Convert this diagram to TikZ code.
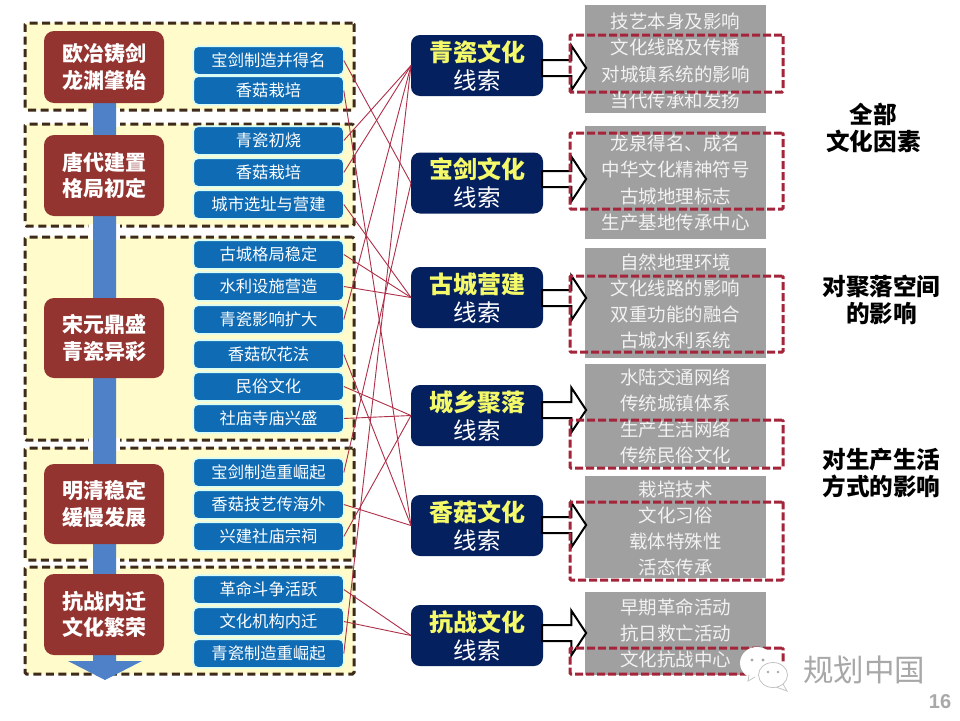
\documentclass[tikz,border=0pt]{standalone}
\usepackage{fontspec}
\setmainfont{Noto Sans CJK SC}
\setsansfont{Liberation Sans}
\usetikzlibrary{shapes.arrows}
\definecolor{frameFill}{HTML}{FFFBCB}
\definecolor{frameLine}{HTML}{3D2A18}
\definecolor{flowBlue}{HTML}{4F81C8}
\definecolor{eraRed}{HTML}{943431}
\definecolor{itemBlue}{HTML}{0E6BB4}
\definecolor{itemGlow}{HTML}{D8FCF6}
\definecolor{threadNavy}{HTML}{05205F}
\definecolor{titleYellow}{HTML}{F4F96A}
\definecolor{panelGray}{HTML}{A0A0A0}
\definecolor{panelText}{HTML}{F2F2F2}
\definecolor{dashRed}{HTML}{A4243A}
\definecolor{linkRed}{HTML}{AE2F48}
\definecolor{markGray}{HTML}{A8A8A8}
\definecolor{iconGray}{HTML}{C4C4C4}
\newcommand{\fpx}[2]{\fontsize{#1}{#2}\selectfont}
\tikzset{
  periodFrame/.style={draw=frameLine,fill=frameFill,line width=3pt,dash pattern=on 8pt off 4.6pt,rounded corners=1.5pt,inner sep=0pt,outer sep=0pt},
  eraBox/.style={fill=eraRed,text=white,rounded corners=10pt,minimum width=120pt,inner sep=0pt,outer sep=0pt,align=center,font=\fpx{21}{26.5}\bfseries},
  itemBox/.style={fill=itemBlue,draw=itemGlow,line width=1.6pt,text=white,rounded corners=5pt,minimum width=150.6pt,minimum height=28.6pt,inner sep=0pt,outer sep=0pt,font=\fpx{16.3}{18}},
  threadBox/.style={fill=threadNavy,rounded corners=9pt,minimum width=132pt,minimum height=61pt,inner sep=0pt,outer sep=0pt},
  threadTitle/.style={text=titleYellow,inner sep=0pt,font=\fpx{24}{26}\bfseries},
  threadSub/.style={text=white,inner sep=0pt,font=\fpx{23.5}{26}},
  grayPanel/.style={fill=panelGray,minimum width=181pt,inner sep=0pt,outer sep=0pt},
  grayText/.style={text=panelText,inner sep=0pt,align=center,font=\fpx{18.5}{26.2}},
  redFrame/.style={draw=dashRed,line width=3pt,dash pattern=on 8pt off 3pt,rounded corners=1pt,inner sep=0pt,outer sep=0pt,minimum width=213pt},
  blockArrow/.style={single arrow,draw=black,fill=white,line width=2pt,text height=14pt,text depth=0pt,text width=0pt,minimum height=44pt,minimum width=43pt,single arrow head extend=14.5pt,single arrow tip angle=113,inner sep=0pt,outer sep=0pt},
  sideNote/.style={text=black,inner sep=0pt,align=center,font=\fpx{23.6}{27}\bfseries},
  link/.style={draw=linkRed,line width=0.9pt}
}
\begin{document}
\begin{tikzpicture}[x=1pt,y=-1pt]
\useasboundingbox (0,0) rectangle (960,720);
\fill[white] (0,0) rectangle (960,720);
% period frames
\node[periodFrame,minimum width=329pt,minimum height=87pt] (f1) at (189.5,66.5) {};
\node[periodFrame,minimum width=329pt,minimum height=102pt] (f2) at (189.5,175) {};
\node[periodFrame,minimum width=329pt,minimum height=203pt] (f3) at (189.5,338.5) {};
\node[periodFrame,minimum width=329pt,minimum height=112pt] (f4) at (189.5,504) {};
\node[periodFrame,minimum width=329pt,minimum height=107pt] (f5) at (189.5,620.5) {};
% gaps in the dashes beside the flow arrow
\foreach \yy in {110,124,226,237,440,448,560,567}{\fill[white] (89,\yy-2.5) rectangle (120,\yy+2.5);}
% flow arrow
\fill[flowBlue] (93,100) -- (116,100) -- (116,661) -- (142,661) -- (105,680) -- (68,661) -- (93,661) -- cycle;
% eras
\node[eraBox,minimum height=72pt] (e1) at (104,67) {欧冶铸剑\\龙渊肇始};
\node[eraBox,minimum height=81pt] (e2) at (104,175.5) {唐代建置\\格局初定};
\node[eraBox,minimum height=80pt] (e3) at (104,338) {宋元鼎盛\\青瓷异彩};
\node[eraBox,minimum height=80pt] (e4) at (104,504) {明清稳定\\缓慢发展};
\node[eraBox,minimum height=81pt] (e5) at (104,614.5) {抗战内迁\\文化繁荣};
% items
\node[itemBox] (a1) at (268.5,60.5) {宝剑制造并得名};
\node[itemBox] (a2) at (268.5,90.5) {香菇栽培};
\node[itemBox] (a3) at (268.5,140.5) {青瓷初烧};
\node[itemBox] (a4) at (268.5,172.5) {香菇栽培};
\node[itemBox] (a5) at (268.5,204.5) {城市选址与营建};
\node[itemBox] (a6) at (268.5,254.5) {古城格局稳定};
\node[itemBox] (a7) at (268.5,286.5) {水利设施营造};
\node[itemBox] (a8) at (268.5,319.5) {青瓷影响扩大};
\node[itemBox] (a9) at (268.5,354.5) {香菇砍花法};
\node[itemBox] (a10) at (268.5,386.5) {民俗文化};
\node[itemBox] (a11) at (268.5,418.5) {社庙寺庙兴盛};
\node[itemBox] (a12) at (268.5,472.5) {宝剑制造重崛起};
\node[itemBox] (a13) at (268.5,504.5) {香菇技艺传海外};
\node[itemBox] (a14) at (268.5,536.5) {兴建社庙宗祠};
\node[itemBox] (a15) at (268.5,589.5) {革命斗争活跃};
\node[itemBox] (a16) at (268.5,621.5) {文化机构内迁};
\node[itemBox] (a17) at (268.5,653.5) {青瓷制造重崛起};
% threads
\node[threadBox] (t1) at (477,65.5) {};
\node[threadBox] (t2) at (477,183) {};
\node[threadBox] (t3) at (477,297.5) {};
\node[threadBox] (t4) at (477,415.5) {};
\node[threadBox] (t5) at (477,525.5) {};
\node[threadBox] (t6) at (477,635.5) {};
\foreach \nm/\yy/\tt in {t1/52/青瓷文化,t2/169/宝剑文化,t3/284/古城营建,t4/402/城乡聚落,t5/512/香菇文化,t6/622/抗战文化}{
  \node[threadTitle] (\nm h) at (477,\yy) {\tt};
  \node[threadSub] (\nm s) at (477,\yy+28.5) {线索};
}
% links
\foreach \aa/\tt in {a3/t1,a4/t1,a8/t1,a17/t1,a1/t2,a12/t2,a5/t3,a6/t3,a7/t3,a10/t4,a11/t4,a14/t4,a2/t5,a9/t5,a13/t5,a15/t6,a16/t6}{
  \draw[link] (\aa.east) -- (\tt.west);
}
% grey panels
\node[grayPanel,minimum height=108pt] (g1) at (675.5,59) {};
\node[grayPanel,minimum height=113pt] (g2) at (675.5,182.5) {};
\node[grayPanel,minimum height=110pt] (g3) at (675.5,303) {};
\node[grayPanel,minimum height=103pt] (g4) at (675.5,415.5) {};
\node[grayPanel,minimum height=102pt] (g5) at (675.5,527) {};
\node[grayPanel,minimum height=83pt] (g6) at (675.5,633.5) {};
\node[grayText] (x1) at (675.5,61) {技艺本身及影响\\文化线路及传播\\对城镇系统的影响\\当代传承和发扬};
\node[grayText] (x2) at (675.5,183) {龙泉得名、成名\\中华文化精神符号\\古城地理标志\\生产基地传承中心};
\node[grayText] (x3) at (675.5,301.5) {自然地理环境\\文化线路的影响\\双重功能的融合\\古城水利系统};
\node[grayText] (x4) at (675.5,416.5) {水陆交通网络\\传统城镇体系\\生产生活网络\\传统民俗文化};
\node[grayText] (x5) at (675.5,528.5) {栽培技术\\文化习俗\\载体特殊性\\活态传承};
\node[grayText] (x6) at (675.5,633.5) {早期革命活动\\抗日救亡活动\\文化抗战中心};
% block arrows
\node[blockArrow] (b1) at (561.5,68) {};
\node[blockArrow] (b2) at (561.5,179) {};
\node[blockArrow] (b3) at (561.5,298) {};
\node[blockArrow] (b4) at (561.5,410) {};
\node[blockArrow] (b5) at (561.5,525) {};
\node[blockArrow] (b6) at (561.5,633) {};
% red dashed frames
\node[redFrame,minimum height=57pt] (r1) at (676.5,63.5) {};
\node[redFrame,minimum height=76pt] (r2) at (676.5,171) {};
\node[redFrame,minimum height=76pt] (r3) at (676.5,314) {};
\node[redFrame,minimum height=48pt] (r4) at (676.5,444) {};
\node[redFrame,minimum height=78pt] (r5) at (676.5,541) {};
\node[redFrame,minimum height=26pt] (r6) at (676.5,661) {};
% side notes
\node[sideNote] (n1) at (873.5,127.5) {全部\\文化因素};
\node[sideNote] (n2) at (881.5,299.5) {对聚落空间\\的影响};
\node[sideNote] (n3) at (881.5,473.5) {对生产生活\\方式的影响};
% watermark
\fill[white] (757,663) ellipse (17pt and 16pt);
\fill[white] (773,675) ellipse (17pt and 15pt);
\draw[white,fill=white] (750,672) -- (747,682) -- (758,676) -- cycle;
\draw[iconGray,line width=0.8pt] (749,675) -- (748,681) -- (755,677);
\draw[iconGray,line width=0.8pt,fill=white] (783,684) -- (787,691) -- (776,687);
\draw[iconGray,line width=0.8pt,fill=white] (773,675) ellipse (14.5pt and 12.5pt);
\fill[markGray] (752,660) circle (1.6pt) (763,660) circle (1.6pt) (768,672) circle (1.3pt) (778,672) circle (1.3pt);
\node[text=markGray,inner sep=0pt,font=\fpx{30.5}{32}] (wm) at (864,670) {规划中国};
\node[text=markGray,inner sep=0pt,font=\sffamily\bfseries\fpx{20}{22}] (pg) at (940,702) {16};
\end{tikzpicture}
\end{document}
